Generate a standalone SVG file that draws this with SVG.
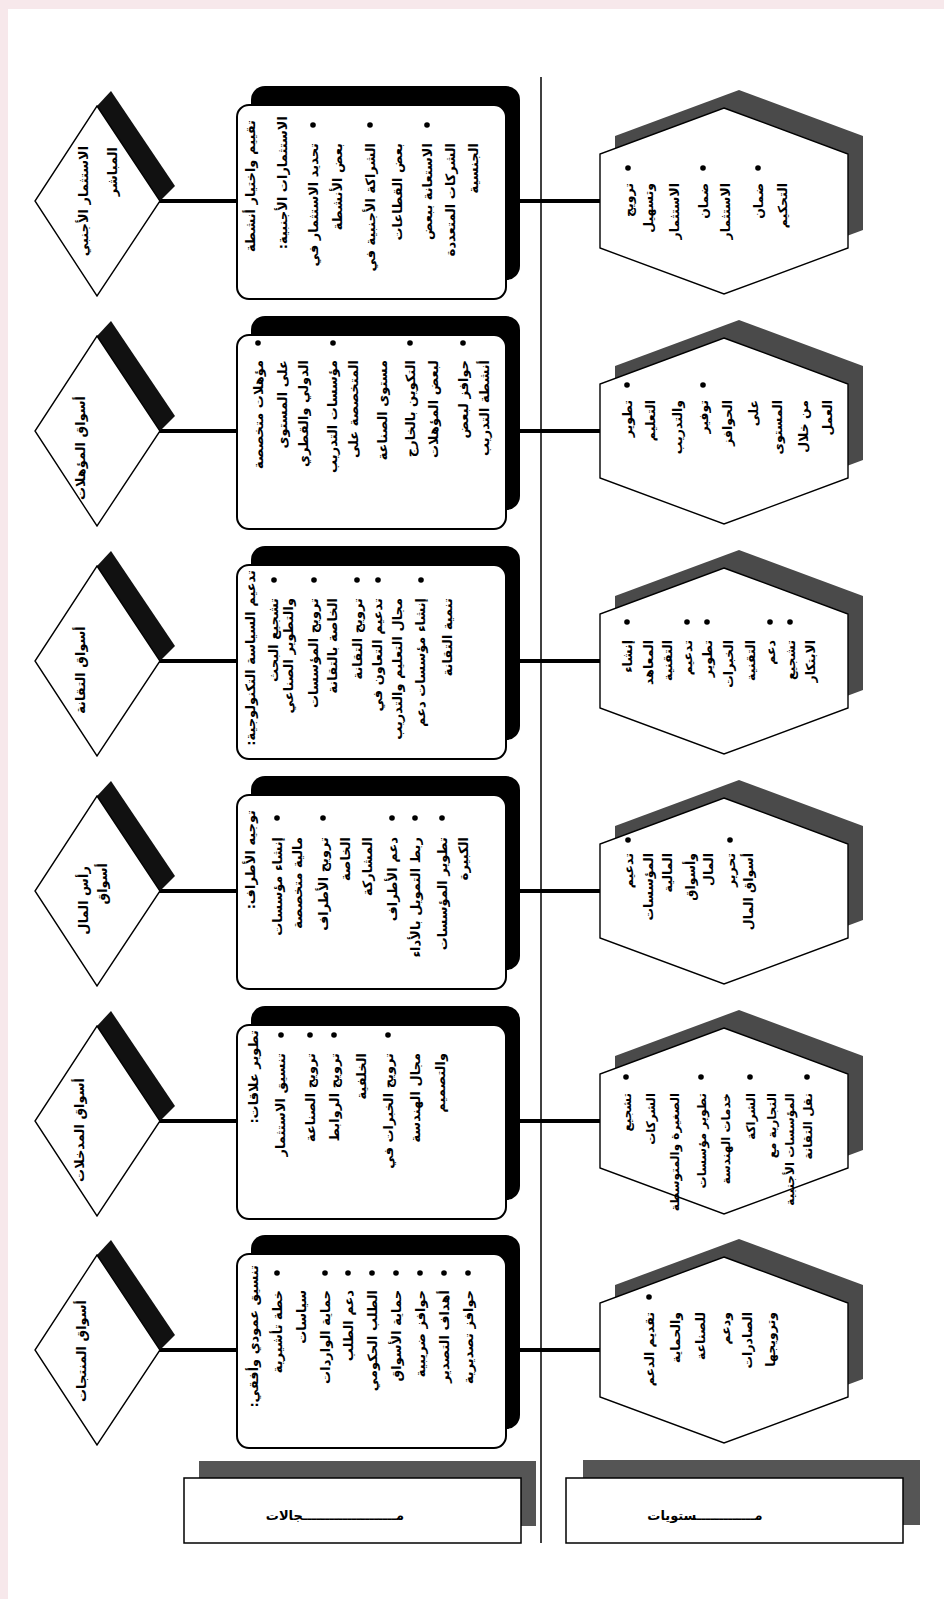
<svg xmlns="http://www.w3.org/2000/svg" width="944" height="1599" viewBox="0 0 944 1599">
<style>
.t{font-family:"DejaVu Sans","Noto Sans",sans-serif;font-weight:bold;font-size:13px;fill:#000;direction:rtl;text-anchor:start}
.h{font-size:12.5px}
.s{font-size:12px}
.d{font-family:"DejaVu Sans","Noto Sans",sans-serif;font-weight:bold;font-size:13px;fill:#000;text-anchor:middle}
.rect{fill:#fff;stroke:#000;stroke-width:2}
.rsh{fill:#000}
.hex{fill:#fff;stroke:#000;stroke-width:1.4}
.hsh{fill:#4a4a4a}
.dia{fill:#fff;stroke:#000;stroke-width:1.4}
.band{fill:#111}
.conn{stroke:#000;stroke-width:4;fill:none}
.b{fill:#000}
.box{fill:#fff;stroke:#000;stroke-width:1.5}
.bsh{fill:#555}
</style>
<rect x="0" y="0" width="944" height="1599" fill="#f7e8eb"/>
<rect x="8" y="9" width="936" height="1590" fill="#fff"/>

<g id="connectors">
<line x1="541" y1="77" x2="541" y2="1543" stroke="#000" stroke-width="1.5"/>
<line class="conn" x1="158" y1="201" x2="238" y2="201"/><line class="conn" x1="506" y1="201" x2="601" y2="201"/>
<line class="conn" x1="158" y1="431" x2="238" y2="431"/><line class="conn" x1="506" y1="431" x2="601" y2="431"/>
<line class="conn" x1="158" y1="661" x2="238" y2="661"/><line class="conn" x1="506" y1="661" x2="601" y2="661"/>
<line class="conn" x1="158" y1="891" x2="238" y2="891"/><line class="conn" x1="506" y1="891" x2="601" y2="891"/>
<line class="conn" x1="158" y1="1121" x2="238" y2="1121"/><line class="conn" x1="506" y1="1121" x2="601" y2="1121"/>
<line class="conn" x1="158" y1="1350" x2="238" y2="1350"/><line class="conn" x1="506" y1="1350" x2="601" y2="1350"/>
</g>

<!-- Row 1 -->
<g id="dia1">
<polygon class="band" points="97,106 111,91 175,186 160,201"/>
<polygon class="dia" points="97,106 160,201 97,296 35,201"/>
<text class="d" transform="translate(88,201) rotate(-90)">الاستثمار الأجنبي</text>
<text class="t" transform="translate(117,147) rotate(-90)">المباشر</text>
</g>
<g id="rect1">
<rect class="rsh" x="251" y="86" width="269" height="194" rx="14"/>
<rect class="rect" x="237" y="105" width="269" height="194" rx="12"/>
<text class="t" transform="translate(255,120) rotate(-90)">تقييم واختيار أنشطة</text>
<text class="t" transform="translate(287,116) rotate(-90)">الاستثمارات الأجنبية:</text>
<circle class="b" cx="313" cy="125" r="2.8"/><circle class="b" cx="370" cy="125" r="2.8"/><circle class="b" cx="427" cy="125" r="2.8"/>
<text class="t" transform="translate(318,143) rotate(-90)">تحديد الاستثمار في</text>
<text class="t" transform="translate(342,143) rotate(-90)">بعض الأنشطة</text>
<text class="t" transform="translate(375,143) rotate(-90)">الشراكة الأجنبية في</text>
<text class="t" transform="translate(402,143) rotate(-90)">بعض القطاعات</text>
<text class="t" transform="translate(432,143) rotate(-90)">الاستعانة ببعض</text>
<text class="t" transform="translate(455,143) rotate(-90)">الشركات المتعددة</text>
<text class="t" transform="translate(478,143) rotate(-90)">الجنسية</text>
</g>
<g id="hex1">
<polygon class="hsh" points="739,90 863,136 863,230 739,276 615,230 615,136"/>
<polygon class="hex" points="724,108 848,154 848,248 724,294 600,248 600,154"/>
<circle class="b" cx="628" cy="168" r="2.8"/><circle class="b" cx="703" cy="168" r="2.8"/><circle class="b" cx="758" cy="168" r="2.8"/>
<text class="t h" transform="translate(633,183) rotate(-90)">ترويج</text>
<text class="t h" transform="translate(653,183) rotate(-90)">وتسهيل</text>
<text class="t h" transform="translate(679,183) rotate(-90)">الاستثمار</text>
<text class="t h" transform="translate(708,183) rotate(-90)">ضمان</text>
<text class="t h" transform="translate(730,183) rotate(-90)">الاستثمار</text>
<text class="t h" transform="translate(763,183) rotate(-90)">ضمان</text>
<text class="t h" transform="translate(787,183) rotate(-90)">التحكيم</text>
</g>

<!-- Row 2 -->
<g id="dia2">
<polygon class="band" points="97,336 111,321 175,416 160,431"/>
<polygon class="dia" points="97,336 160,431 97,526 35,431"/>
<text class="d" transform="translate(85,448) rotate(-90)">أسواق المؤهلات</text>
</g>
<g id="rect2">
<rect class="rsh" x="251" y="316" width="269" height="194" rx="14"/>
<rect class="rect" x="237" y="335" width="269" height="194" rx="12"/>
<circle class="b" cx="258" cy="343" r="2.8"/><circle class="b" cx="333" cy="343" r="2.8"/><circle class="b" cx="410" cy="343" r="2.8"/><circle class="b" cx="463" cy="343" r="2.8"/>
<text class="t" transform="translate(263,360) rotate(-90)">مؤهلات متخصصة</text>
<text class="t" transform="translate(287,360) rotate(-90)">على المستوى</text>
<text class="t" transform="translate(308,360) rotate(-90)">الدولي والقطري</text>
<text class="t" transform="translate(337,360) rotate(-90)">مؤسسات التدريب</text>
<text class="t" transform="translate(358,360) rotate(-90)">المتخصصة على</text>
<text class="t" transform="translate(387,360) rotate(-90)">مستوى الصناعة</text>
<text class="t" transform="translate(415,360) rotate(-90)">التكوين بالخارج</text>
<text class="t" transform="translate(438,360) rotate(-90)">لبعض المؤهلات</text>
<text class="t" transform="translate(468,360) rotate(-90)">حوافز لبعض</text>
<text class="t" transform="translate(489,360) rotate(-90)">أنشطة التدريب</text>
</g>
<g id="hex2">
<polygon class="hsh" points="739,320 863,366 863,460 739,506 615,460 615,366"/>
<polygon class="hex" points="724,338 848,384 848,478 724,524 600,478 600,384"/>
<circle class="b" cx="627" cy="385" r="2.8"/><circle class="b" cx="703" cy="385" r="2.8"/>
<text class="t h" transform="translate(632,400) rotate(-90)">تطوير</text>
<text class="t h" transform="translate(655,400) rotate(-90)">التعليم</text>
<text class="t h" transform="translate(682,400) rotate(-90)">والتدريب</text>
<text class="t h" transform="translate(708,400) rotate(-90)">توفير</text>
<text class="t h" transform="translate(732,400) rotate(-90)">الحوافز</text>
<text class="t h" transform="translate(758,400) rotate(-90)">على</text>
<text class="t h" transform="translate(782,400) rotate(-90)">المستوى</text>
<text class="t h" transform="translate(808,400) rotate(-90)">من خلال</text>
<text class="t h" transform="translate(832,400) rotate(-90)">العمل</text>
</g>

<!-- Row 3 -->
<g id="dia3">
<polygon class="band" points="97,566 111,551 175,646 160,661"/>
<polygon class="dia" points="97,566 160,661 97,756 35,661"/>
<text class="d" transform="translate(85,670) rotate(-90)">أسواق التقانة</text>
</g>
<g id="rect3">
<rect class="rsh" x="251" y="546" width="269" height="194" rx="14"/>
<rect class="rect" x="237" y="565" width="269" height="194" rx="12"/>
<text class="t" transform="translate(255,570) rotate(-90)">تدعيم السياسة التكنولوجية:</text>
<circle class="b" cx="274" cy="580" r="2.8"/><circle class="b" cx="314" cy="580" r="2.8"/><circle class="b" cx="357" cy="580" r="2.8"/><circle class="b" cx="378" cy="580" r="2.8"/><circle class="b" cx="421" cy="580" r="2.8"/>
<text class="t" transform="translate(278,598) rotate(-90)">تشجيع البحث</text>
<text class="t" transform="translate(293,598) rotate(-90)">والتطوير الصناعي</text>
<text class="t" transform="translate(318,598) rotate(-90)">ترويج المؤسسات</text>
<text class="t" transform="translate(337,598) rotate(-90)">الخاصة بالتقانة</text>
<text class="t" transform="translate(362,598) rotate(-90)">ترويج التقانة</text>
<text class="t" transform="translate(382,598) rotate(-90)">تدعيم التعاون في</text>
<text class="t" transform="translate(402,598) rotate(-90)">مجال التعليم والتدريب</text>
<text class="t" transform="translate(425,598) rotate(-90)">إنشاء مؤسسات دعم</text>
<text class="t" transform="translate(452,598) rotate(-90)">تنمية التقانة</text>
</g>
<g id="hex3">
<polygon class="hsh" points="739,550 863,596 863,690 739,736 615,690 615,596"/>
<polygon class="hex" points="724,568 848,614 848,708 724,754 600,708 600,614"/>
<circle class="b" cx="627" cy="622" r="2.8"/><circle class="b" cx="687" cy="622" r="2.8"/><circle class="b" cx="707" cy="622" r="2.8"/><circle class="b" cx="770" cy="622" r="2.8"/><circle class="b" cx="790" cy="622" r="2.8"/>
<text class="t h" transform="translate(632,640) rotate(-90)">إنشاء</text>
<text class="t h" transform="translate(653,640) rotate(-90)">المعاهد</text>
<text class="t h" transform="translate(672,640) rotate(-90)">التقنية</text>
<text class="t h" transform="translate(692,640) rotate(-90)">تدعيم</text>
<text class="t h" transform="translate(712,640) rotate(-90)">تطوير</text>
<text class="t h" transform="translate(733,640) rotate(-90)">الخبرات</text>
<text class="t h" transform="translate(755,640) rotate(-90)">التقنية</text>
<text class="t h" transform="translate(775,640) rotate(-90)">دعم</text>
<text class="t h" transform="translate(795,640) rotate(-90)">تشجيع</text>
<text class="t h" transform="translate(815,640) rotate(-90)">الابتكار</text>
</g>

<!-- Row 4 -->
<g id="dia4">
<polygon class="band" points="97,796 111,781 175,876 160,891"/>
<polygon class="dia" points="97,796 160,891 97,986 35,891"/>
<text class="t" transform="translate(88,866) rotate(-90)">رأس المال</text>
<text class="t" transform="translate(107,863) rotate(-90)">أسواق</text>
</g>
<g id="rect4">
<rect class="rsh" x="251" y="776" width="269" height="194" rx="14"/>
<rect class="rect" x="237" y="795" width="269" height="194" rx="12"/>
<text class="t" transform="translate(255,810) rotate(-90)">توجيه الأطراف:</text>
<circle class="b" cx="277" cy="818" r="2.8"/><circle class="b" cx="323" cy="818" r="2.8"/><circle class="b" cx="392" cy="818" r="2.8"/><circle class="b" cx="415" cy="818" r="2.8"/><circle class="b" cx="442" cy="818" r="2.8"/>
<text class="t" transform="translate(282,837) rotate(-90)">إنشاء مؤسسات</text>
<text class="t" transform="translate(302,837) rotate(-90)">مالية متخصصة</text>
<text class="t" transform="translate(328,837) rotate(-90)">ترويج الأطراف</text>
<text class="t" transform="translate(350,837) rotate(-90)">الخاصة</text>
<text class="t" transform="translate(372,837) rotate(-90)">المشاركة</text>
<text class="t" transform="translate(397,837) rotate(-90)">دعم الأطراف</text>
<text class="t" transform="translate(420,837) rotate(-90)">ربط التمويل بالأداء</text>
<text class="t" transform="translate(447,837) rotate(-90)">تطوير المؤسسات</text>
<text class="t" transform="translate(468,837) rotate(-90)">الكبيرة</text>
</g>
<g id="hex4">
<polygon class="hsh" points="739,780 863,826 863,920 739,966 615,920 615,826"/>
<polygon class="hex" points="724,798 848,844 848,938 724,984 600,938 600,844"/>
<circle class="b" cx="628" cy="840" r="2.8"/><circle class="b" cx="730" cy="840" r="2.8"/>
<text class="t h" transform="translate(633,853) rotate(-90)">تدعيم</text>
<text class="t h" transform="translate(653,853) rotate(-90)">المؤسسات</text>
<text class="t h" transform="translate(672,853) rotate(-90)">المالية</text>
<text class="t h" transform="translate(695,853) rotate(-90)">وأسواق</text>
<text class="t h" transform="translate(713,853) rotate(-90)">المال</text>
<text class="t h" transform="translate(735,853) rotate(-90)">تحرير</text>
<text class="t h" transform="translate(753,853) rotate(-90)">أسواق المال</text>
</g>

<!-- Row 5 -->
<g id="dia5">
<polygon class="band" points="97,1026 111,1011 175,1106 160,1121"/>
<polygon class="dia" points="97,1026 160,1121 97,1216 35,1121"/>
<text class="d" transform="translate(84,1130) rotate(-90)">أسواق المدخلات</text>
</g>
<g id="rect5">
<rect class="rsh" x="251" y="1006" width="269" height="194" rx="14"/>
<rect class="rect" x="237" y="1025" width="269" height="194" rx="12"/>
<text class="t" transform="translate(258,1030) rotate(-90)">تطوير علاقات:</text>
<circle class="b" cx="281" cy="1035" r="2.8"/><circle class="b" cx="310" cy="1035" r="2.8"/><circle class="b" cx="334" cy="1035" r="2.8"/><circle class="b" cx="388" cy="1035" r="2.8"/>
<text class="t" transform="translate(285,1053) rotate(-90)">تنسيق الاستثمار</text>
<text class="t" transform="translate(315,1053) rotate(-90)">ترويج الصناعة</text>
<text class="t" transform="translate(339,1053) rotate(-90)">ترويج الروابط</text>
<text class="t" transform="translate(366,1053) rotate(-90)">الخلفية</text>
<text class="t" transform="translate(393,1053) rotate(-90)">ترويج الخبرات في</text>
<text class="t" transform="translate(420,1053) rotate(-90)">مجال الهندسة</text>
<text class="t" transform="translate(445,1053) rotate(-90)">والتصميم</text>
</g>
<g id="hex5">
<polygon class="hsh" points="739,1010 863,1056 863,1150 739,1196 615,1150 615,1056"/>
<polygon class="hex" points="724,1028 848,1074 848,1168 724,1214 600,1168 600,1074"/>
<circle class="b" cx="626" cy="1077" r="2.8"/><circle class="b" cx="701" cy="1077" r="2.8"/><circle class="b" cx="750" cy="1077" r="2.8"/><circle class="b" cx="807" cy="1077" r="2.8"/>
<text class="t s" transform="translate(631,1093) rotate(-90)">تشجيع</text>
<text class="t s" transform="translate(655,1093) rotate(-90)">الشركات</text>
<text class="t s" transform="translate(679,1093) rotate(-90)">الصغيرة والمتوسطة</text>
<text class="t s" transform="translate(706,1093) rotate(-90)">تطوير مؤسسات</text>
<text class="t s" transform="translate(730,1093) rotate(-90)">خدمات الهندسة</text>
<text class="t s" transform="translate(755,1093) rotate(-90)">الشراكة</text>
<text class="t s" transform="translate(776,1093) rotate(-90)">التجارية مع</text>
<text class="t s" transform="translate(794,1093) rotate(-90)">المؤسسات الأجنبية</text>
<text class="t s" transform="translate(812,1093) rotate(-90)">نقل التقانة</text>
</g>

<!-- Row 6 -->
<g id="dia6">
<polygon class="band" points="97,1255 111,1240 175,1335 160,1350"/>
<polygon class="dia" points="97,1255 160,1350 97,1445 35,1350"/>
<text class="d" transform="translate(86,1351) rotate(-90)">أسواق المنتجات</text>
</g>
<g id="rect6">
<rect class="rsh" x="251" y="1235" width="269" height="194" rx="14"/>
<rect class="rect" x="237" y="1254" width="269" height="194" rx="12"/>
<text class="t" transform="translate(258,1265) rotate(-90)">تنسيق عمودي وأفقي:</text>
<circle class="b" cx="277" cy="1273" r="2.8"/><circle class="b" cx="325" cy="1273" r="2.8"/><circle class="b" cx="348" cy="1273" r="2.8"/><circle class="b" cx="372" cy="1273" r="2.8"/><circle class="b" cx="396" cy="1273" r="2.8"/><circle class="b" cx="420" cy="1273" r="2.8"/><circle class="b" cx="444" cy="1273" r="2.8"/><circle class="b" cx="468" cy="1273" r="2.8"/>
<text class="t" transform="translate(282,1290) rotate(-90)">خطة تأشيرية</text>
<text class="t" transform="translate(306,1290) rotate(-90)">سياسات</text>
<text class="t" transform="translate(330,1290) rotate(-90)">حماية الواردات</text>
<text class="t" transform="translate(353,1290) rotate(-90)">دعم الطلب</text>
<text class="t" transform="translate(377,1290) rotate(-90)">الطلب الحكومي</text>
<text class="t" transform="translate(401,1290) rotate(-90)">حماية الأسواق</text>
<text class="t" transform="translate(425,1290) rotate(-90)">حوافز ضريبية</text>
<text class="t" transform="translate(449,1290) rotate(-90)">أهداف التصدير</text>
<text class="t" transform="translate(473,1290) rotate(-90)">حوافز تصديرية</text>
</g>
<g id="hex6">
<polygon class="hsh" points="739,1239 863,1285 863,1379 739,1425 615,1379 615,1285"/>
<polygon class="hex" points="724,1257 848,1303 848,1397 724,1443 600,1397 600,1303"/>
<circle class="b" cx="649" cy="1297" r="2.8"/>
<text class="t h" transform="translate(654,1312) rotate(-90)">تقديم الدعم</text>
<text class="t h" transform="translate(680,1312) rotate(-90)">والحماية</text>
<text class="t h" transform="translate(705,1312) rotate(-90)">للصناعة</text>
<text class="t h" transform="translate(730,1312) rotate(-90)">ودعم</text>
<text class="t h" transform="translate(752,1312) rotate(-90)">الصادرات</text>
<text class="t h" transform="translate(775,1312) rotate(-90)">وترويجها</text>
</g>

<!-- Bottom headers -->
<g id="box-left">
<rect class="bsh" x="199" y="1461" width="337" height="65"/>
<rect class="box" x="184" y="1478" width="337" height="65"/>
<text class="d" x="335" y="1520" font-size="14">مـــــــــــــــــــــجالات</text>
</g>
<g id="box-right">
<rect class="bsh" x="583" y="1460" width="337" height="65"/>
<rect class="box" x="566" y="1478" width="337" height="65"/>
<text class="d" x="705" y="1520" font-size="14">مـــــــــــــستويات</text>
</g>
</svg>
